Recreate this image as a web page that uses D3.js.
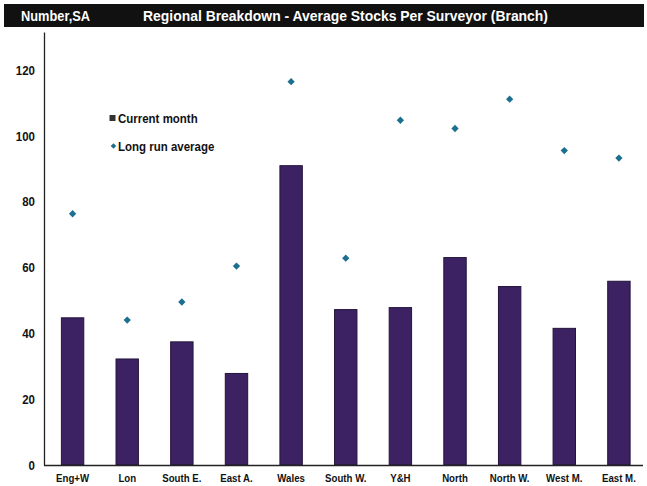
<!DOCTYPE html>
<html>
<head>
<meta charset="utf-8">
<script src="https://cdn.jsdelivr.net/npm/d3@7"></script>
<style>
  html, body { margin: 0; padding: 0; background: #fff; }
  svg { display: block; }
  .narrow { font-family: "Liberation Sans", Arial, sans-serif; font-weight: bold; }
</style>
</head>
<body>
<svg id="chart" width="647" height="486"></svg>
<script>
// Regions and their average stocks per surveyor (branch)
const regions = ["Eng+W", "Lon", "South E.", "East A.", "Wales", "South W.", "Y&H", "North", "North W.", "West M.", "East M."];
const currentMonth = [44.7, 32.2, 37.4, 27.8, 90.9, 47.2, 47.8, 63.0, 54.2, 41.5, 55.8];
const longRunAverage = [76.3, 44.0, 49.5, 60.4, 116.4, 62.8, 104.7, 102.2, 111.1, 95.5, 93.2];
const yTicks = [0, 20, 40, 60, 80, 100, 120];
const seriesNames = ["Current month", "Long run average"];

const svg = d3.select("#chart");
const barColor = "#3c2262";
const dotColor = "#1d6f90";

// Squeeze bold text horizontally to get a narrow face
function condense(sel, factor) {
  sel.each(function () {
    const w = this.getComputedTextLength();
    d3.select(this).attr("textLength", w * factor).attr("lengthAdjust", "spacingAndGlyphs");
  });
}

// Title bar
svg.append("rect").attr("x", 4).attr("y", 4).attr("width", 640).attr("height", 23).attr("fill", "#111");
svg.append("text").attr("class", "narrow").attr("x", 21).attr("y", 21)
  .attr("fill", "#fff").attr("font-size", 14)
  .attr("textLength", 69).attr("lengthAdjust", "spacingAndGlyphs")
  .text("Number,SA");
svg.append("text").attr("class", "narrow").attr("x", 143).attr("y", 21)
  .attr("fill", "#fff").attr("font-size", 14)
  .attr("textLength", 405).attr("lengthAdjust", "spacingAndGlyphs")
  .text("Regional Breakdown - Average Stocks Per Surveyor (Branch)");

// Scales
const x = d3.scaleBand().domain(regions).range([45, 646.5]).paddingInner(0.59).paddingOuter(0.3);
const y = d3.scaleLinear().domain([0, 131.5]).range([465, 32]);

// Bars: current month
svg.append("g").selectAll("rect").data(regions).join("rect")
  .attr("x", d => x(d))
  .attr("y", (d, i) => y(currentMonth[i]))
  .attr("width", x.bandwidth())
  .attr("height", (d, i) => y(0) - y(currentMonth[i]))
  .attr("fill", barColor)
  .attr("stroke", "#24143a").attr("stroke-width", 1);

// Diamonds: long run average
const diamond = d3.symbol().type(d3.symbolDiamond2).size(34);
svg.append("g").selectAll("path").data(regions).join("path")
  .attr("d", diamond)
  .attr("transform", (d, i) => `translate(${x(d) + x.bandwidth() / 2},${y(longRunAverage[i])})`)
  .attr("fill", dotColor);

// Y axis
const yAxis = svg.append("g").attr("transform", "translate(44,0)")
  .call(d3.axisLeft(y).tickValues(yTicks).tickSize(0).tickSizeOuter(0).tickPadding(9));
yAxis.select(".domain").attr("stroke", "#222").attr("stroke-width", 1.3);
yAxis.selectAll("text").attr("class", "narrow").attr("font-size", 13.5).attr("fill", "#111")
  .call(condense, 0.85);

// X axis
const xAxis = svg.append("g").attr("transform", "translate(0,465)")
  .call(d3.axisBottom(x).tickSize(0).tickSizeOuter(0).tickPadding(9));
xAxis.select(".domain").attr("d", "M44,0.5H643").attr("stroke", "#222").attr("stroke-width", 1.3);
xAxis.selectAll("text").attr("class", "narrow").attr("font-size", 11.5).attr("fill", "#111")
  .call(condense, 0.84);

// Legend
const legend = svg.append("g");
legend.append("rect").attr("x", 109.5).attr("y", 115).attr("width", 6).attr("height", 6).attr("fill", "#333");
legend.append("path").attr("d", d3.symbol().type(d3.symbolDiamond2).size(20))
  .attr("transform", "translate(113.5,146)").attr("fill", dotColor);
legend.selectAll("text").data(seriesNames).join("text")
  .attr("class", "narrow")
  .attr("x", 118)
  .attr("y", (d, i) => 123 + i * 28)
  .attr("font-size", 13.5)
  .attr("fill", "#111")
  .text(d => d)
  .call(condense, 0.85);
</script>
</body>
</html>
